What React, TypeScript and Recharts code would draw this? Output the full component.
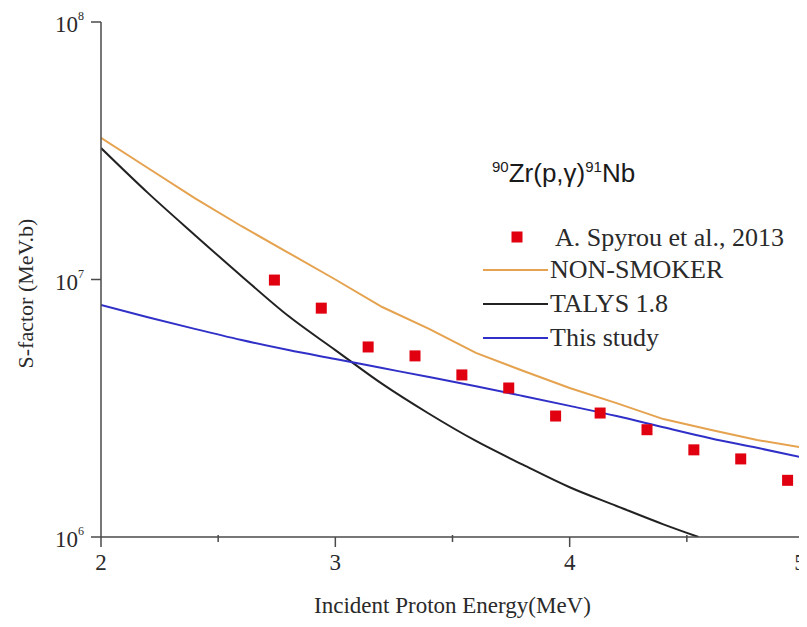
import { ComposedChart, Line, Scatter, XAxis, YAxis } from "recharts";

// energies (MeV) and S-factors (MeV.b)
const modelE = [2.0, 2.2, 2.4, 2.6, 2.8, 3.0, 3.2, 3.4, 3.6, 3.8, 4.0, 4.2, 4.4, 4.6, 4.8, 5.0];
const nonSmokerS = [3.55e7, 2.71e7, 2.07e7, 1.61e7, 1.27e7, 1.0e7, 7.82e6, 6.43e6, 5.19e6, 4.42e6, 3.79e6, 3.31e6, 2.87e6, 2.61e6, 2.38e6, 2.22e6];
const thisStudyS = [7.96e6, 7.14e6, 6.43e6, 5.82e6, 5.32e6, 4.91e6, 4.53e6, 4.18e6, 3.85e6, 3.53e6, 3.23e6, 2.95e6, 2.67e6, 2.42e6, 2.22e6, 2.03e6];

const talysE = [2.0, 2.2, 2.4, 2.6, 2.8, 3.0, 3.2, 3.4, 3.6, 3.8, 4.0, 4.2, 4.4, 4.55];
const talysS = [3.24e7, 2.17e7, 1.49e7, 1.03e7, 7.21e6, 5.32e6, 3.93e6, 3.01e6, 2.36e6, 1.91e6, 1.56e6, 1.32e6, 1.12e6, 1.0e6];

const spyrouE = [2.74, 2.94, 3.14, 3.34, 3.54, 3.74, 3.94, 4.13, 4.33, 4.53, 4.73, 4.93];
const spyrouS = [9.95e6, 7.74e6, 5.47e6, 5.05e6, 4.26e6, 3.79e6, 2.95e6, 3.03e6, 2.61e6, 2.18e6, 2.01e6, 1.66e6];

const xTicks = [2, 2.5, 3, 3.5, 4, 4.5, 5];
const yTicks = [1e6, 1e7, 1e8];

const ORANGE = "#e5a24f";
const BLACK = "#222222";
const BLUE = "#3030c8";
const RED = "#e0000f";
const AXIS = "#4a4a4a";
const SERIF = '"Liberation Serif", "Times New Roman", serif';
const SANS = '"Liberation Sans", Arial, sans-serif';

const pts = (xs: number[], ys: number[]) => xs.map((x, i) => ({ x, s: ys[i] }));

const XTick = ({ x, y, payload }: any) => {
  const v = payload.value;
  const major = Number.isInteger(v);
  // last label sits on the page edge, nudge it in so it is not cut
  const lx = v === 5 ? x - 4 : x;
  return (
    <g>
      <line x1={x} x2={x} y1={major ? y : y - 2} y2={y + (major ? 10 : 5)} stroke={AXIS} strokeWidth={1.5} />
      {major && (
        <text x={lx} y={y + 33} textAnchor="middle" fontFamily={SERIF} fontSize={23} fill="#2a2a2a">
          {v}
        </text>
      )}
    </g>
  );
};

const YTick = ({ x, y, payload }: any) => {
  const exp = Math.round(Math.log10(payload.value));
  return (
    <g>
      <line x1={x - 10} x2={x} y1={y} y2={y} stroke={AXIS} strokeWidth={1.5} />
      <text x={x - 17} y={y + 10} textAnchor="end" fontFamily={SERIF} fontSize={23} fill="#2a2a2a">
        <tspan>10</tspan>
        <tspan fontSize={12} dy={-12}>{exp}</tspan>
      </text>
    </g>
  );
};

const Square = ({ cx, cy }: any) => <rect x={cx - 5.5} y={cy - 5.5} width={11} height={11} fill={RED} />;

function LegendBox() {
  const row = (y: number, color: string, label: string) => (
    <g>
      <line x1={13} x2={78} y1={y} y2={y} stroke={color} strokeWidth={2} />
      <text x={80} y={y + 8} fontFamily={SERIF} fontSize={26} fill="#2a2a2a">{label}</text>
    </g>
  );
  return (
    <svg width={337} height={220} style={{ position: "absolute", left: 462, top: 132 }}>
      <text x={22} y={42} fontFamily={SANS} fontSize={26} fill="#1a1a1a">
        <tspan fontSize={15} dy={-10}>90</tspan>
        <tspan dy={10}>Zr(p,γ)</tspan>
        <tspan fontSize={15} dy={-10}>91</tspan>
        <tspan dy={10}>Nb</tspan>
      </text>
      <rect x={41.5} y={91.5} width={11} height={11} fill={RED} />
      <text x={85} y={106} fontFamily={SERIF} fontSize={26} fill="#2a2a2a">A. Spyrou et al., 2013</text>
      {row(130, ORANGE, "NON-SMOKER")}
      {row(164, BLACK, "TALYS 1.8")}
      {row(198, BLUE, "This study")}
    </svg>
  );
}

export default function App() {
  return (
    <div style={{ position: "relative", width: 799, height: 619 }}>
      <ComposedChart width={799} height={619} margin={{ top: 14, right: 3, bottom: 0, left: 0 }}>
        <XAxis
          type="number"
          dataKey="x"
          domain={[2, 5]}
          ticks={xTicks}
          allowDataOverflow
          height={90}
          stroke={AXIS}
          strokeWidth={1.5}
          tickLine={false}
          tickSize={0}
          tickMargin={0}
          tick={<XTick />}
          interval={0}
          label={{
            content: ({ viewBox }: any) => (
              <text x={viewBox.x + viewBox.width / 2} y={viewBox.y + 76} textAnchor="middle" fontFamily={SERIF} fontSize={23} fill="#2a2a2a">
                Incident Proton Energy(MeV)
              </text>
            ),
          }}
        />
        <YAxis
          type="number"
          dataKey="s"
          scale="log"
          domain={[1e6, 1e8]}
          ticks={yTicks}
          allowDataOverflow
          width={93}
          stroke={AXIS}
          strokeWidth={1.5}
          tickLine={false}
          tickSize={0}
          tickMargin={0}
          tick={<YTick />}
          interval={0}
          label={{
            content: ({ viewBox }: any) => {
              const cx = 17;
              const cy = viewBox.y + viewBox.height / 2 + 14;
              return (
                <text x={cx} y={cy} transform={`rotate(-90 ${cx} ${cy})`} textAnchor="middle" dominantBaseline="central" fontFamily={SERIF} fontSize={22} fill="#2a2a2a">
                  S-factor (MeV.b)
                </text>
              );
            },
          }}
        />
        <Line data={pts(modelE, nonSmokerS)} dataKey="s" stroke={ORANGE} strokeWidth={2} dot={false} type="linear" isAnimationActive={false} />
        <Line data={pts(talysE, talysS)} dataKey="s" stroke={BLACK} strokeWidth={2} dot={false} type="monotone" isAnimationActive={false} />
        <Line data={pts(modelE, thisStudyS)} dataKey="s" stroke={BLUE} strokeWidth={2} dot={false} type="monotone" isAnimationActive={false} />
        <Scatter data={pts(spyrouE, spyrouS)} dataKey="s" shape={<Square />} isAnimationActive={false} />
      </ComposedChart>
      <LegendBox />
    </div>
  );
}
